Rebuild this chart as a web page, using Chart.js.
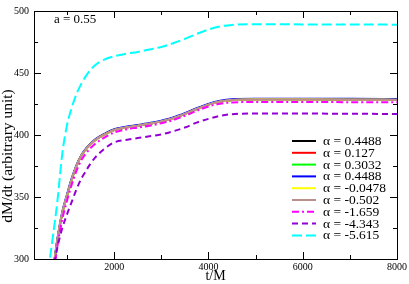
<!DOCTYPE html>
<html>
<head>
<meta charset="utf-8">
<script src="https://cdn.jsdelivr.net/npm/chart.js@4.4.1/dist/chart.umd.min.js"></script>
<style>
  html, body { margin: 0; padding: 0; background: #fff; }
  #wrap { width: 409px; height: 284px; }
</style>
</head>
<body>
<div id="wrap"><canvas id="chart" width="409" height="284"></canvas></div>
<script>
// t/M sample points shared by every curve
const tValues = [600, 700, 800, 900, 1000, 1100, 1200, 1300, 1400, 1500, 1600, 1800, 2000,
  2250, 2500, 2750, 3000, 3250, 3500, 3750, 4000, 4250, 4500, 5000, 6000, 7000, 8000];

const alphaLabels = ['α = 0.4488', 'α = 0.127', 'α = 0.3032', 'α = 0.4488', 'α = -0.0478',
  'α = -0.502', 'α = -1.659', 'α = -4.343', 'α = -5.615'];

// dM/dt values
const yA04488 = [255, 288, 316, 337, 351, 364, 375, 383, 388.5, 392.5, 396, 400.5, 404,
  406, 407.5, 409, 411, 413.5, 417, 421, 424.5, 427, 428.3, 428.8, 428.8, 428.7, 428.5];
const yA0127 = [255, 288, 316, 337, 351, 364, 375, 383, 388.5, 392.5, 396, 400.5, 404,
  406, 407.5, 409, 411, 413.5, 417, 421, 424.5, 427, 428.3, 428.8, 428.8, 428.7, 428.5];
const yA03032 = [255, 288, 316, 337, 351, 364, 375, 383, 388.5, 392.5, 396, 400.5, 404,
  406, 407.5, 409, 411, 413.5, 417, 421, 424.5, 427, 428.3, 428.8, 428.8, 428.7, 428.5];
const yA04488b = [256, 289, 317, 338, 352, 365, 375.5, 383.5, 389, 393, 396.5, 401, 404.6,
  406.6, 408, 409.6, 411.6, 414.1, 417.6, 421.6, 425.1, 427.6, 428.9, 429.3, 429.3, 429.2, 429];
const yAm00478 = [255, 288, 316, 337, 351, 364, 375, 383, 388.5, 392.5, 396, 400.5, 404,
  406, 407.5, 409, 411, 413.5, 417, 421, 424.5, 427, 428.3, 428.8, 428.8, 428.7, 428.5];
const yAm0502 = [255, 288, 316, 337, 351, 364, 375, 383, 388.5, 392.5, 396, 400.5, 404,
  406, 407.5, 409, 411, 413.5, 417, 421, 424.5, 427, 428.2, 428.6, 428.6, 428.5, 428.3];
const yAm1659 = [250, 282, 311, 332, 347, 360, 371, 379.5, 385, 389.5, 393, 398, 402,
  404.5, 406, 407.5, 409.5, 412, 415.5, 419.5, 423, 425.2, 426.3, 426.6, 426.6, 426.5, 426.5];
const yAm4343 = [265, 290, 310, 325, 336, 346, 356, 364.5, 371, 377, 382, 389, 394,
  396, 397.5, 399, 400.5, 403, 406, 410, 413, 415.5, 416.8, 417.3, 417.3, 417.1, 417];
const yAm5615 = [290, 318, 348, 385, 408, 422, 433, 441, 447.5, 452.5, 456.5, 461, 463.5,
  465.5, 467, 469, 471, 474, 477.5, 481.5, 485, 487.5, 488.8, 489.3, 489.2, 489.1, 489];

const seriesValues = [yA04488, yA0127, yA03032, yA04488b, yAm00478, yAm0502, yAm1659, yAm4343, yAm5615];
const seriesColors = ['#000000', '#ff0000', '#00ff00', '#0000ff', '#ffff00', '#bc8f8f', '#ff00ff', '#9400d3', '#00ffff'];
const seriesDashes = [[], [], [], [], [], [], [7, 3, 2, 3], [6, 4], [10, 4]];

const xTickLabels = [2000, 4000, 6000, 8000];
const xMinorTicks = [1000, 3000, 5000, 7000];
const yTickLabels = [300, 350, 400, 450, 500];
const yMinorTicks = [325, 375, 425, 475];

const serif = '"Liberation Serif", "DejaVu Serif", serif';

// later series are painted over earlier ones, as in the original plot
const datasets = seriesValues.map((vals, i) => ({
  label: alphaLabels[i],
  data: tValues.map((t, j) => ({ x: t, y: vals[j] })),
  borderColor: seriesColors[i],
  borderDash: seriesDashes[i],
  borderWidth: 2,
  pointRadius: 0,
  fill: false,
  order: seriesValues.length - i,
  cubicInterpolationMode: 'monotone'
}));

// frame, inward ticks on all four sides, y title, annotation and legend
const decorations = {
  id: 'decorations',
  afterDraw(chart) {
    const { ctx, chartArea: a, scales: { x, y } } = chart;
    ctx.save();
    ctx.strokeStyle = '#000';
    ctx.lineWidth = 1;
    ctx.strokeRect(Math.round(a.left) + 0.5, Math.round(a.top) + 0.5,
      Math.round(a.right - a.left), Math.round(a.bottom - a.top));
    ctx.beginPath();
    const tick = (list, len) => {
      list.forEach(v => {
        const px = Math.round(x.getPixelForValue(v)) + 0.5;
        ctx.moveTo(px, a.bottom); ctx.lineTo(px, a.bottom - len);
        ctx.moveTo(px, a.top); ctx.lineTo(px, a.top + len);
      });
    };
    const ytick = (list, len) => {
      list.forEach(v => {
        const py = Math.round(y.getPixelForValue(v)) + 0.5;
        ctx.moveTo(a.left, py); ctx.lineTo(a.left + len, py);
        ctx.moveTo(a.right, py); ctx.lineTo(a.right - len, py);
      });
    };
    tick(xTickLabels, 7); tick(xMinorTicks, 4);
    ytick(yTickLabels, 7); ytick(yMinorTicks, 4);
    ctx.stroke();

    ctx.fillStyle = '#000';
    ctx.textBaseline = 'middle';

    // y axis title, sits a bit below the middle in the original
    ctx.save();
    ctx.translate(8, 156);
    ctx.rotate(-Math.PI / 2);
    ctx.textAlign = 'center';
    ctx.font = '15.5px ' + serif;
    ctx.fillText('dM/dt (arbitrary unit)', 0, 0);
    ctx.restore();

    ctx.font = '13px ' + serif;
    ctx.fillText('a = 0.55', 54, 20);

    // legend
    ctx.font = '13.5px ' + serif;
    chart.data.datasets.forEach((ds, i) => {
      const yy = 141 + i * 11.8;
      ctx.beginPath();
      ctx.strokeStyle = ds.borderColor;
      ctx.lineWidth = 2;
      ctx.setLineDash(ds.borderDash);
      ctx.moveTo(292, yy); ctx.lineTo(316, yy);
      ctx.stroke();
      ctx.setLineDash([]);
      ctx.fillStyle = '#000';
      ctx.fillText(ds.label, 323, yy + 0.5);
    });
    ctx.restore();
  }
};

new Chart(document.getElementById('chart'), {
  type: 'line',
  data: { datasets },
  options: {
    responsive: false,
    animation: false,
    layout: { padding: { top: 5, right: 11, left: 0, bottom: 0 } },
    plugins: { legend: { display: false }, tooltip: { enabled: false } },
    scales: {
      x: {
        type: 'linear',
        min: 300, max: 8000,
        grid: { display: false, drawTicks: false },
        border: { display: false },
        afterBuildTicks: s => { s.ticks = xTickLabels.map(v => ({ value: v })); },
        afterFit: s => { s.height = 25; },
        ticks: { padding: 2, color: '#000', maxRotation: 0, callback: v => String(v),
          font: { family: serif, size: 10 } },
        title: { display: true, text: 't/M', color: '#000', padding: { top: 0, bottom: -1 },
          font: { family: serif, size: 14 } }
      },
      y: {
        min: 300, max: 500,
        grid: { display: false, drawTicks: false },
        border: { display: false },
        afterBuildTicks: s => { s.ticks = yTickLabels.map(v => ({ value: v })); },
        afterFit: s => { s.width = 34; },
        ticks: { padding: 5, color: '#000', callback: v => String(v), font: { family: serif, size: 10 } }
      }
    }
  },
  plugins: [decorations]
});
</script>
</body>
</html>
